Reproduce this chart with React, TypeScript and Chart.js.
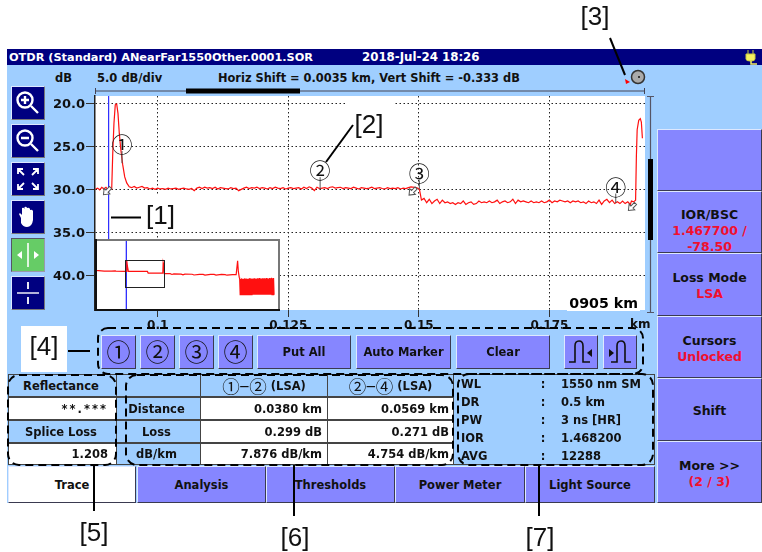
import React, { useEffect, useRef } from "react";
import { Chart, registerables } from "chart.js";

Chart.register(...registerables);

// ---------- main trace data ----------
const leadKm = [0.0881, 0.0885, 0.0889, 0.0893, 0.0897, 0.0901, 0.0905, 0.0909, 0.0912];
const leadDb = [29.9, 29.8, 30.0, 29.7, 29.9, 29.7, 30.0, 29.8, 29.9];
const pulseKm = [0.09125, 0.09139, 0.09163, 0.09188, 0.09215, 0.0924, 0.09265, 0.09292, 0.09331, 0.09369, 0.09407, 0.09456];
const pulseDb = [29.9, 25.9, 22.25, 20.1, 20.0, 21.1, 23.4, 25.2, 27.1, 28.5, 29.2, 29.65];
const plateauOneKm = [
  0.095, 0.0955, 0.096, 0.0965, 0.097, 0.0975, 0.098, 0.0985, 0.099, 0.0995,
  0.1, 0.1005, 0.101, 0.1015, 0.102, 0.1025, 0.103, 0.1035, 0.104, 0.1045,
  0.105, 0.1055, 0.106, 0.1065, 0.107, 0.1075, 0.108, 0.1085, 0.109, 0.1095,
  0.11, 0.1105, 0.111, 0.1115, 0.112, 0.1125, 0.113, 0.1135, 0.114, 0.1145,
  0.115, 0.1155, 0.116, 0.1165, 0.117, 0.1175, 0.118, 0.1185, 0.119, 0.1195,
  0.12, 0.1205, 0.121, 0.1215, 0.122, 0.1225, 0.123, 0.1235, 0.124, 0.1245,
  0.125, 0.1255, 0.126, 0.1265, 0.127, 0.1275, 0.128, 0.1285, 0.129, 0.1295,
  0.13, 0.1305, 0.131, 0.1315, 0.132, 0.1325, 0.133, 0.1335, 0.134, 0.1345,
  0.135, 0.1355, 0.136, 0.1365, 0.137, 0.1375, 0.138, 0.1385, 0.139, 0.1395,
  0.14, 0.1405, 0.141, 0.1415, 0.142, 0.1425, 0.143, 0.1435, 0.144, 0.1445,
  0.145, 0.1455, 0.146, 0.1465, 0.147, 0.1475, 0.148, 0.1485, 0.1495,
];
const plateauOneDb = [
  29.75, 29.6, 29.8, 29.7, 29.6, 29.8, 29.75, 29.9, 29.8, 29.95,
  29.8, 29.9, 29.85, 29.95, 29.8, 29.9, 29.85, 29.8, 29.95, 29.85,
  29.8, 29.9, 29.95, 29.85, 30.1, 29.8, 29.7, 29.85, 29.7, 29.8,
  29.75, 29.85, 29.7, 29.9, 29.75, 29.8, 29.85, 29.9, 29.75, 29.85,
  29.8, 30.1, 29.95, 29.8, 29.7, 29.85, 29.75, 29.8, 29.7, 29.85,
  29.75, 29.8, 29.9, 29.75, 29.85, 29.7, 29.8, 29.85, 29.75, 29.9,
  29.8, 29.75, 29.85, 29.8, 29.75, 29.9, 29.7, 29.85, 29.65, 29.8,
  30.1, 29.7, 29.85, 29.8, 29.75, 29.85, 29.7, 29.65, 29.8, 29.75,
  29.7, 29.85, 29.75, 29.8, 29.85, 29.7, 29.8, 29.9, 29.75, 29.8,
  29.85, 29.8, 29.7, 29.85, 29.8, 29.75, 29.85, 29.9, 29.75, 29.85,
  29.8, 29.85, 29.75, 29.9, 29.8, 29.85, 29.75, 29.65, 29.75,
];
const plateauTwoKm = [
  0.1501, 0.1505, 0.151, 0.1515, 0.152, 0.1525, 0.153, 0.1535, 0.154, 0.1545,
  0.155, 0.1555, 0.156, 0.1565, 0.157, 0.1575, 0.158, 0.1585, 0.159, 0.1595,
  0.16, 0.1605, 0.161, 0.1615, 0.162, 0.1625, 0.163, 0.1635, 0.164, 0.1645,
  0.165, 0.1655, 0.166, 0.1665, 0.167, 0.1675, 0.168, 0.1685, 0.169, 0.1695,
  0.17, 0.1705, 0.171, 0.1715, 0.172, 0.1725, 0.173, 0.1735, 0.174, 0.1745,
  0.175, 0.1755, 0.176, 0.1765, 0.177, 0.1775, 0.178, 0.1785, 0.179, 0.1795,
  0.18, 0.1805, 0.181, 0.1815, 0.182, 0.1825, 0.183, 0.1835, 0.184, 0.1845,
  0.185, 0.1855, 0.186, 0.1865, 0.187, 0.1875, 0.188, 0.1885, 0.189, 0.1895,
  0.19, 0.1905, 0.1907,
];
const plateauTwoDb = [
  29.9, 31.2, 31.0, 31.5, 31.1, 31.6, 31.3, 31.1, 31.6, 31.2,
  31.5, 31.4, 31.6, 31.5, 31.7, 31.5, 31.6, 31.3, 31.7, 31.5,
  31.4, 31.7, 31.6, 31.3, 31.5, 31.4, 31.5, 31.3, 31.5, 31.4,
  31.2, 31.6, 31.4, 31.3, 31.5, 31.4, 31.1, 31.6, 31.2, 31.4,
  31.3, 31.4, 31.5, 31.3, 31.5, 31.4, 31.5, 31.3, 31.5, 31.4,
  31.2, 31.5, 31.3, 31.4, 31.2, 31.3, 31.4, 31.3, 31.5, 31.3,
  31.4, 31.3, 31.5, 31.4, 31.6, 31.3, 31.5, 31.4, 31.6, 31.2,
  31.7, 31.3, 31.1, 31.5, 31.2, 31.6, 31.4, 31.6, 31.3, 31.6,
  31.4, 31.7, 31.3,
];
const endKm = [0.1911, 0.1915, 0.19165, 0.1918, 0.1921, 0.1924, 0.1926, 0.1928];
const endDb = [31.4, 31.2, 26.1, 23.0, 21.9, 21.7, 22.1, 24.0];

const cursorKm = [0.0906, 0.0906];
const cursorDb = [19, 44];

const markerLabels = ["①", "②", "③", "④"];
const markerKm = [0.09317, 0.1311, 0.1501, 0.1877];
const markerRingDb = [24.55, 27.6, 27.96, 29.5];
const markerEndDb = [26.9, 29.9, 29.9, 31.55];
const arrowKm = [0.0903, 0.1488, 0.1908];
const arrowDb = [30.15, 30.2, 32.0];

const xTicks = [0.1, 0.125, 0.15, 0.175];
const yTicks = [20, 25, 30, 35, 40];

// ---------- overview (inset) trace data ----------
const overviewKm = [
  0.005, 0.0055, 0.006, 0.007, 0.015, 0.03, 0.05, 0.06, 0.062, 0.09, 0.0912, 0.0922, 0.0935, 0.096, 0.148, 0.15, 0.19,
  0.191, 0.1925, 0.194, 0.21, 0.215, 0.22, 0.24, 0.245, 0.25, 0.27, 0.275, 0.29, 0.3, 0.305, 0.32, 0.33, 0.335, 0.35, 0.36, 0.365, 0.38, 0.39,
  0.394, 0.396, 0.3985,
];
const overviewDb = [
  10.5, 20, 27, 28.8, 29, 29.4, 29.4, 29.2, 29.5, 29.8, 29.8, 20, 25, 29.8, 29.8, 31.3, 31.3,
  21.7, 24, 31.8, 31.9, 32.6, 32, 32.3, 33, 32.3, 32.4, 33.1, 32.5, 32.5, 33.2, 32.5, 32.6, 33.2, 32.6, 32.7, 33.3, 32.7, 32.8,
  19.9, 30, 35.4,
];
const noiseKm = [
  0.3996, 0.401, 0.4024, 0.4038, 0.4052, 0.4066, 0.408, 0.4094, 0.4108, 0.4122, 0.4136, 0.415, 0.4164, 0.4178, 0.4192, 0.4206,
  0.422, 0.4234, 0.4248, 0.4262, 0.4276, 0.429, 0.4304, 0.4318, 0.4332, 0.4346, 0.436, 0.4374, 0.4388, 0.4402, 0.4416, 0.443,
  0.4444, 0.4458, 0.4472, 0.4486, 0.45, 0.4514, 0.4528, 0.4542, 0.4556, 0.457, 0.4584, 0.4598, 0.4612, 0.4626, 0.464, 0.4654,
  0.4668, 0.4682, 0.4696, 0.471, 0.4724, 0.4738, 0.4752, 0.4766, 0.478, 0.4794, 0.4808, 0.4822, 0.4836, 0.485, 0.4864, 0.4878,
  0.4892, 0.4906, 0.492, 0.4934,
];
const noiseDb = [
  36.6, 51.5, 36.9, 51.5, 36.2, 51.5, 36.8, 51.5, 36.5, 51.5, 36.1, 51.5, 36.7, 51.5, 36.3, 51.5,
  36.8, 51.5, 36.4, 51.5, 36.0, 51.5, 36.6, 51.5, 36.3, 51.5, 36.7, 51.5, 36.1, 51.5, 36.5, 51.5,
  36.8, 51.5, 36.2, 51.5, 36.6, 51.5, 36.0, 51.5, 36.4, 51.5, 36.7, 51.5, 36.1, 51.5, 36.5, 51.5,
  36.2, 51.5, 36.6, 51.5, 35.9, 51.5, 36.3, 51.5, 36.6, 51.5, 36.0, 51.5, 36.4, 51.5, 35.8, 51.5,
  36.2, 51.5, 36.0, 51.5,
];
const viewKm = [0.088, 0.1933];
const viewDb = [19.07, 44];

// ---------- panel texts ----------
const fontStack = '"DejaVu Sans", sans-serif';
const tabs = ["Trace", "Analysis", "Thresholds", "Power Meter", "Light Source"];
const infoKeys = ["WL", "DR", "PW", "IOR", "AVG"];
const infoValues = ["1550 nm SM", "0.5 km", "3 ns [HR]", "1.468200", "12288"];
const rowLabels = ["Distance", "Loss", "dB/km"];
const sectionOne = ["0.0380 km", "0.299 dB", "7.876 dB/km"];
const sectionTwo = ["0.0569 km", "0.271 dB", "4.754 dB/km"];

const PURPLE = "#8686FF";
const SKY = "#9FCEFF";
const NAVY = "#000080";

function zip(xs: number[], ys: number[]) {
  return xs.map((x, i) => ({ x, y: ys[i] }));
}

const markerPlugin = {
  id: "markers",
  beforeDraw(chart: any) {
    const { ctx, chartArea: a } = chart;
    ctx.save();
    ctx.fillStyle = "#fff";
    ctx.fillRect(a.left, a.top, a.right - a.left, a.bottom - a.top);
    ctx.restore();
  },
  afterDatasetsDraw(chart: any) {
    const { ctx, scales } = chart;
    const sx = scales.x;
    const sy = scales.y;
    ctx.save();
    markerKm.forEach((km, i) => {
      const px = sx.getPixelForValue(km);
      const ring = sy.getPixelForValue(markerRingDb[i]);
      ctx.strokeStyle = "#555";
      ctx.lineWidth = 1;
      ctx.beginPath();
      ctx.moveTo(px, ring + 8);
      ctx.lineTo(px, sy.getPixelForValue(markerEndDb[i]));
      ctx.stroke();
      ctx.fillStyle = "#111";
      ctx.font = '21px "Noto Sans CJK JP"';
      ctx.textAlign = "center";
      ctx.textBaseline = "middle";
      ctx.fillText(markerLabels[i], px, ring + 1);
    });
    arrowKm.forEach((km, i) => {
      const px = sx.getPixelForValue(km);
      const py = sy.getPixelForValue(arrowDb[i]);
      ctx.save();
      ctx.translate(px, py);
      ctx.rotate(Math.PI / 4);
      ctx.fillStyle = "#fff";
      ctx.strokeStyle = "#555";
      ctx.lineWidth = 1;
      ctx.beginPath();
      ctx.moveTo(0, 5);
      ctx.lineTo(-4, 0);
      ctx.lineTo(-1.5, 0);
      ctx.lineTo(-1.5, -5);
      ctx.lineTo(1.5, -5);
      ctx.lineTo(1.5, 0);
      ctx.lineTo(4, 0);
      ctx.closePath();
      ctx.fill();
      ctx.stroke();
      ctx.restore();
    });
    ctx.restore();
  },
};

const insetPlugin = {
  id: "overviewFrame",
  beforeDraw(chart: any) {
    const { ctx, width, height } = chart;
    ctx.save();
    ctx.fillStyle = "#fff";
    ctx.fillRect(0, 0, width, height);
    ctx.restore();
  },
  afterDatasetsDraw(chart: any) {
    const { ctx, width, height, scales } = chart;
    ctx.save();
    ctx.strokeStyle = "#222";
    ctx.lineWidth = 1;
    const x0 = scales.x.getPixelForValue(viewKm[0]);
    const x1 = scales.x.getPixelForValue(viewKm[1]);
    const y0 = scales.y.getPixelForValue(viewDb[0]);
    const y1 = scales.y.getPixelForValue(viewDb[1]);
    ctx.strokeRect(Math.round(x0) + 0.5, Math.round(y0) + 0.5, Math.round(x1 - x0), Math.round(y1 - y0));
    ctx.lineWidth = 2;
    ctx.strokeStyle = "#777";
    ctx.beginPath();
    ctx.moveTo(0, 1);
    ctx.lineTo(width - 1, 1);
    ctx.lineTo(width - 1, height);
    ctx.stroke();
    ctx.strokeStyle = "#111";
    ctx.beginPath();
    ctx.moveTo(1, 0);
    ctx.lineTo(1, height - 1);
    ctx.lineTo(width, height - 1);
    ctx.stroke();
    ctx.restore();
  },
};

function MainChart() {
  const ref = useRef<HTMLCanvasElement>(null);
  useEffect(() => {
    const chart = new Chart(ref.current!, {
      type: "line",
      data: {
        datasets: [
          {
            data: zip(
              [...leadKm, ...pulseKm, ...plateauOneKm, ...plateauTwoKm, ...endKm],
              [...leadDb, ...pulseDb, ...plateauOneDb, ...plateauTwoDb, ...endDb]
            ),
            borderColor: "#FF1010",
            borderWidth: 1.2,
            pointRadius: 0,
            tension: 0,
          },
          {
            data: zip(cursorKm, cursorDb),
            borderColor: "#3030FF",
            borderWidth: 1,
            pointRadius: 0,
          },
        ],
      },
      options: {
        animation: false,
        responsive: false,
        layout: { padding: { top: 16, right: 20, left: 0, bottom: 0 } },
        plugins: { legend: { display: false }, tooltip: { enabled: false } },
        scales: {
          x: {
            type: "linear",
            min: 0.088,
            max: 0.1933,
            afterFit: (s: any) => {
              s.height = 30;
            },
            afterBuildTicks: (s: any) => {
              s.ticks = xTicks.map((value) => ({ value }));
            },
            ticks: {
              autoSkip: false,
              maxRotation: 0,
              padding: 2,
              color: "#111",
              font: { family: "DejaVu Sans", weight: "bold", size: 12 },
              callback: (v: any) => String(v),
            },
            grid: { color: "#222", lineWidth: 1, tickLength: 7, tickColor: "#333", tickBorderDash: [] },
            border: { display: false, dash: [1.5, 2.5] },
          },
          y: {
            type: "linear",
            reverse: true,
            min: 19.07,
            max: 44,
            afterFit: (s: any) => {
              s.width = 55;
            },
            afterBuildTicks: (s: any) => {
              s.ticks = yTicks.map((value) => ({ value }));
            },
            ticks: {
              autoSkip: false,
              padding: 1,
              labelOffset: 1,
              color: "#111",
              font: { family: "DejaVu Sans", weight: "bold", size: 13 },
              callback: (v: any) => Number(v).toFixed(1),
            },
            grid: { color: "#222", lineWidth: 1, tickLength: 9, tickColor: "#333", tickBorderDash: [] },
            border: { display: true, color: "#222", width: 1.5, dash: [1.5, 2.5] },
          },
        },
      },
      plugins: [markerPlugin],
    } as any);
    return () => chart.destroy();
  }, []);
  return <canvas ref={ref} width={625} height={260} style={{ position: "absolute", left: 40, top: 80, width: 625, height: 260 }} />;
}

function InsetChart() {
  const ref = useRef<HTMLCanvasElement>(null);
  useEffect(() => {
    const chart = new Chart(ref.current!, {
      type: "line",
      data: {
        datasets: [
          {
            data: zip([...overviewKm, ...noiseKm], [...overviewDb, ...noiseDb]),
            borderColor: "#FF1010",
            borderWidth: 1.2,
            pointRadius: 0,
            tension: 0,
          },
          {
            data: zip(cursorKm, [-1, 67]),
            borderColor: "#3030FF",
            borderWidth: 1,
            pointRadius: 0,
          },
        ],
      },
      options: {
        animation: false,
        responsive: false,
        layout: { padding: 0 },
        plugins: { legend: { display: false }, tooltip: { enabled: false } },
        scales: {
          x: { type: "linear", min: 0.005, max: 0.5096, display: false },
          y: { type: "linear", reverse: true, min: -0.55, max: 66.75, display: false },
        },
      },
      plugins: [insetPlugin],
    } as any);
    return () => chart.destroy();
  }, []);
  return <canvas ref={ref} width={185} height={72} style={{ position: "absolute", left: 95, top: 239, width: 185, height: 72 }} />;
}

function Box(p: any) {
  const { x, y, w, h, bg, bevel, align, children, style, size, color, pad } = p;
  return (
    <div
      style={{
        position: "absolute",
        left: x,
        top: y,
        width: w,
        height: h,
        boxSizing: "border-box",
        background: bg,
        display: "flex",
        flexDirection: "column",
        alignItems: align === "right" ? "flex-end" : align === "left" ? "flex-start" : "center",
        justifyContent: "center",
        font: `bold ${size || 11.5}px ${fontStack}`,
        lineHeight: "16px",
        color: color || "#111",
        paddingLeft: align === "left" ? pad || 0 : 0,
        paddingRight: align === "right" ? pad || 0 : 0,
        whiteSpace: "nowrap",
        ...(bevel
          ? { borderStyle: "solid", borderWidth: 1, borderColor: "#DDE8FF #3A3A50 #3A3A50 #DDE8FF" }
          : {}),
        ...style,
      }}
    >
      {children}
    </div>
  );
}

const ICON_STROKE = { stroke: "#fff", strokeWidth: 2.4, fill: "none" as const };

function IconBtn({ y, green, children }: any) {
  return (
    <div
      style={{
        position: "absolute",
        left: 11,
        top: y,
        width: 34,
        height: 34,
        boxSizing: "border-box",
        background: green ? "#66CC66" : NAVY,
        borderStyle: "solid",
        borderWidth: 1,
        borderColor: green ? "#556 #99a #99a #556" : "#DDE8FF #777 #777 #DDE8FF",
      }}
    >
      <svg width={32} height={32} style={{ display: "block" }}>
        {children}
      </svg>
    </div>
  );
}

const CELL = "1px solid #444";

function Cell({ x, y, w, h, bg, children, align, pad, style }: any) {
  return (
    <Box x={x} y={y} w={w} h={h} bg={bg} align={align} pad={pad} style={{ border: CELL, ...style }}>
      {children}
    </Box>
  );
}

const circled = { fontFamily: '"Noto Sans CJK JP"', fontWeight: 400 };
const RIGHT_SIZE = 12.5;

export default function App() {
  const rowY = [374, 397, 420, 443];
  const rowH = [23, 23, 23, 22];
  return (
    <div style={{ position: "absolute", left: 0, top: 0, width: 762, height: 552, background: "#fff", overflow: "hidden" }}>
      {/* screen */}
      <div style={{ position: "absolute", left: 7, top: 49, width: 755, height: 454, background: SKY }} />
      <Box x={7} y={49} w={755} h={16} bg={NAVY} style={{ display: "block" }} />
      <div style={{ position: "absolute", left: 9, top: 49, font: `bold 11.3px ${fontStack}`, lineHeight: "17px", color: "#fff", whiteSpace: "nowrap" }}>
        OTDR (Standard) ANearFar1550Other.0001.SOR
      </div>
      <div style={{ position: "absolute", left: 362, top: 49, font: `bold 11.8px ${fontStack}`, lineHeight: "17px", color: "#fff", whiteSpace: "nowrap" }}>
        2018-Jul-24 18:26
      </div>
      <svg style={{ position: "absolute", left: 745, top: 49 }} width={14} height={16}>
        <path d="M3 1V5M8 1V5M1 5H10V10Q10 12 6 12H5Q1 12 1 10Z" fill="#F4F060" stroke="#C8C840" strokeWidth={1} />
        <path d="M6 12V15H12" stroke="#F4F060" strokeWidth={1.5} fill="none" />
      </svg>

      {/* header row */}
      <div style={{ position: "absolute", left: 55, top: 70, font: `bold 11.5px ${fontStack}`, lineHeight: "16px", color: "#111" }}>dB</div>
      <div style={{ position: "absolute", left: 97, top: 70, font: `bold 11.5px ${fontStack}`, lineHeight: "16px", color: "#111", whiteSpace: "nowrap" }}>5.0 dB/div</div>
      <div style={{ position: "absolute", left: 218, top: 70, font: `bold 11.4px ${fontStack}`, lineHeight: "16px", color: "#111", whiteSpace: "nowrap" }}>
        Horiz Shift = 0.0035 km, Vert Shift = -0.333 dB
      </div>

      {/* rulers */}
      <svg style={{ position: "absolute", left: 0, top: 0 }} width={762} height={552}>
        <path d="M95.5 88V94M644.5 88V94M95 91H645" stroke="#445" strokeWidth={1} fill="none" />
        <rect x={186} y={88.5} width={114} height={5} fill="#000" />
        <path d="M650.5 97V312M647 96.5H654M647 312.5H654" stroke="#556" strokeWidth={1.2} fill="none" />
        <rect x={648} y={159} width={5} height={81} fill="#000" />
        <circle cx={638} cy={77} r={6.5} fill="#aaa" stroke="#333" strokeWidth={1.5} />
        <circle cx={639} cy={77} r={1} fill="#111" />
        <path d="M625 79L630 82L626 84Z" fill="#f00" />
      </svg>

      <MainChart />

      {/* white note boxes inside the plot */}
      <div style={{ position: "absolute", left: 110, top: 196, width: 68, height: 36, background: "#fff" }} />
      <div style={{ position: "absolute", left: 347, top: 98, width: 48, height: 44, background: "#fff" }} />

      <InsetChart />
      <div style={{ position: "absolute", right: 122, top: 296, background: "#fff", font: `bold 14.2px ${fontStack}`, lineHeight: "15px", color: "#000", padding: "0 2px" }}>
        0905 km
      </div>
      <div style={{ position: "absolute", left: 630, top: 316, font: `bold 12px ${fontStack}`, lineHeight: "16px", color: "#111" }}>km</div>

      {/* left icon column */}
      <IconBtn y={86}>
        <circle cx={13} cy={13} r={7.5} {...ICON_STROKE} />
        <path d="M9 13H17M13 9V17M19 19L26 26" {...ICON_STROKE} />
      </IconBtn>
      <IconBtn y={124}>
        <circle cx={13} cy={13} r={7.5} {...ICON_STROKE} />
        <path d="M9 13H17M19 19L26 26" {...ICON_STROKE} />
      </IconBtn>
      <IconBtn y={162}>
        <path d="M12 12L6 6M6 11V6H11M20 12L26 6M21 6H26V11M12 20L6 26M6 21V26H11M20 20L26 26M26 21V26H21" {...ICON_STROKE} strokeWidth={1.8} />
      </IconBtn>
      <IconBtn y={200}>
        <path d="M9 17L7 13Q8 11 10 14V7Q12 6 12.5 8V6Q14.5 5 15 7V7Q17 6 18 8V9Q20 8 21 10V19Q20 26 15 26Q11 26 9 22Z" fill="#fff" />
      </IconBtn>
      <IconBtn y={238} green>
        <path d="M16 4V28" {...ICON_STROKE} strokeWidth={1.6} />
        <path d="M5 16L10 12V20ZM27 16L22 12V20Z" fill="#fff" />
      </IconBtn>
      <IconBtn y={276}>
        <path d="M16 5V12M16 20V27" {...ICON_STROKE} strokeWidth={1.8} />
        <path d="M5 16H27" {...ICON_STROKE} strokeWidth={1.4} />
      </IconBtn>

      {/* marker button row */}
      {markerLabels.map((m, i) => (
        <Box key={m} x={[101, 140, 179, 218][i]} y={335} w={35} h={34} bg={PURPLE} bevel size={24} style={{ ...circled, paddingBottom: 2 }}>
          {m}
        </Box>
      ))}
      <Box x={257} y={335} w={94} h={34} bg={PURPLE} bevel>Put All</Box>
      <Box x={356} y={335} w={95} h={34} bg={PURPLE} bevel>Auto Marker</Box>
      <Box x={456} y={335} w={94} h={34} bg={PURPLE} bevel>Clear</Box>
      <Box x={564} y={335} w={34} h={34} bg={PURPLE} bevel>
        <svg width={30} height={30}>
          <path d="M3 25H9V9Q9 4 13 4Q17 4 17 9V25H24" stroke="#111" strokeWidth={1.6} fill="none" />
          <path d="M26 12L21 16L26 20Z" fill="#111" />
        </svg>
      </Box>
      <Box x={603} y={335} w={34} h={34} bg={PURPLE} bevel>
        <svg width={30} height={30}>
          <path d="M6 25H12V9Q12 4 16 4Q20 4 20 9V25H26" stroke="#111" strokeWidth={1.6} fill="none" />
          <path d="M4 12L9 16L4 20Z" fill="#111" />
        </svg>
      </Box>

      {/* reflectance table */}
      <Cell x={8} y={374} w={109} h={23} bg={SKY} style={{ paddingRight: 3 }}>Reflectance</Cell>
      <Cell x={8} y={397} w={109} h={23} bg="#fff" align="right" pad={8} style={{ letterSpacing: 2 }}>**.***</Cell>
      <Cell x={8} y={420} w={109} h={23} bg={SKY} style={{ paddingRight: 3 }}>Splice Loss</Cell>
      <Cell x={8} y={443} w={109} h={22} bg="#fff" align="right" pad={8}>1.208</Cell>

      {/* section table */}
      <Cell x={116} y={374} w={85} h={23} bg={SKY} />
      <Cell x={200} y={374} w={128} h={23} bg={SKY} style={{ flexDirection: "row" }}>
        <span style={{ ...circled, fontSize: 17.5 }}>①−②</span>
        <span>&nbsp;(LSA)</span>
      </Cell>
      <Cell x={327} y={374} w={127} h={23} bg={SKY} style={{ flexDirection: "row" }}>
        <span style={{ ...circled, fontSize: 17.5 }}>②−④</span>
        <span>&nbsp;(LSA)</span>
      </Cell>
      {rowLabels.map((r, i) => (
        <React.Fragment key={r}>
          <Cell x={116} y={rowY[i + 1]} w={85} h={rowH[i + 1]} bg={SKY} style={{ paddingRight: 4 }}>{r}</Cell>
          <Cell x={200} y={rowY[i + 1]} w={128} h={rowH[i + 1]} bg="#fff" align="right" pad={5}>{sectionOne[i]}</Cell>
          <Cell x={327} y={rowY[i + 1]} w={127} h={rowH[i + 1]} bg="#fff" align="right" pad={4}>{sectionTwo[i]}</Cell>
        </React.Fragment>
      ))}

      {/* info panel */}
      <Box x={453} y={374} w={202} h={91} bg={SKY} style={{ border: CELL }} />
      {infoKeys.map((k, i) => (
        <React.Fragment key={k}>
          <Box x={461} y={376 + i * 18} w={50} h={16} align="left">{k}</Box>
          <Box x={538} y={376 + i * 18} w={10} h={16}>:</Box>
          <Box x={561} y={376 + i * 18} w={92} h={16} align="left">{infoValues[i]}</Box>
        </React.Fragment>
      ))}

      {/* tabs */}
      {tabs.map((t, i) => (
        <Box
          key={t}
          x={[8, 137, 266, 395, 525][i]}
          y={466}
          w={[128, 129, 129, 130, 130][i]}
          h={37}
          bg={i === 0 ? "#fff" : PURPLE}
          bevel
        >
          {t}
        </Box>
      ))}

      {/* right buttons */}
      <Box x={657} y={129} w={105} h={62} bg={PURPLE} bevel />
      <Box x={657} y={191} w={105} h={62} bg={PURPLE} bevel size={RIGHT_SIZE} style={{ paddingTop: 17 }}>
        <span>IOR/BSC</span>
        <span style={{ color: "#F01030" }}>1.467700 /</span>
        <span style={{ color: "#F01030" }}>-78.50</span>
      </Box>
      <Box x={657} y={253} w={105} h={63} bg={PURPLE} bevel size={RIGHT_SIZE} style={{ paddingTop: 2 }}>
        <span>Loss Mode</span>
        <span style={{ color: "#F01030" }}>LSA</span>
      </Box>
      <Box x={657} y={316} w={105} h={62} bg={PURPLE} bevel size={RIGHT_SIZE} style={{ paddingTop: 4 }}>
        <span>Cursors</span>
        <span style={{ color: "#F01030" }}>Unlocked</span>
      </Box>
      <Box x={657} y={378} w={105} h={63} bg={PURPLE} bevel size={RIGHT_SIZE} style={{ paddingTop: 2 }}>Shift</Box>
      <Box x={657} y={441} w={105} h={62} bg={PURPLE} bevel size={RIGHT_SIZE} style={{ paddingTop: 4 }}>
        <span>More &gt;&gt;</span>
        <span style={{ color: "#F01030" }}>(2 / 3)</span>
      </Box>

      {/* call-outs */}
      <div style={{ position: "absolute", left: 21, top: 326, width: 46, height: 46, background: "#fff" }} />
      <svg style={{ position: "absolute", left: 0, top: 0, pointerEvents: "none" }} width={762} height={552}>
        <g stroke="#000" strokeWidth={2} fill="none" strokeDasharray="8 5">
          <rect x={98} y={328} width={545} height={46} rx={10} />
          <rect x={8} y={375} width={108} height={90} rx={11} />
          <rect x={126} y={375} width={327} height={90} rx={11} />
          <rect x={458} y={374} width={195} height={91} rx={11} />
        </g>
        <g stroke="#000" strokeWidth={2} fill="none">
          <path d="M111 217.5H141" />
          <path d="M353 125L326 162" />
          <path d="M610 38L625 75" />
          <path d="M68 351H90" />
          <path d="M94 465V511" />
          <path d="M294 465V516" />
          <path d="M539 465V516" />
        </g>
        <g fill="#111" fontFamily="Liberation Sans" fontSize={26} textAnchor="middle" dominantBaseline="central">
          <text x={160.5} y={215}>[1]</text>
          <text x={369} y={124}>[2]</text>
          <text x={595} y={16}>[3]</text>
          <text x={44} y={346}>[4]</text>
          <text x={94} y={532}>[5]</text>
          <text x={295} y={537}>[6]</text>
          <text x={540} y={537}>[7]</text>
        </g>
      </svg>
    </div>
  );
}
